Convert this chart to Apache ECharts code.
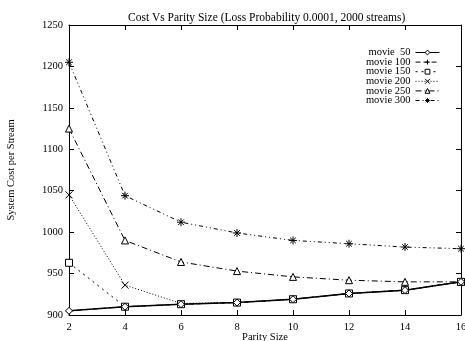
<!DOCTYPE html>
<html>
<head>
<meta charset="utf-8">
<script src="https://cdn.jsdelivr.net/npm/echarts@6/dist/echarts.min.js"></script>
<style>html,body{margin:0;padding:0;background:#fff;}#c{width:465px;height:341px;}</style>
</head>
<body>
<div id="c"></div>
<script>
const parity = [2, 4, 6, 8, 10, 12, 14, 16];
const seriesNames = ['movie  50', 'movie 100', 'movie 150', 'movie 200', 'movie 250', 'movie 300'];
const movie50  = [905, 910, 913, 915, 919, 926, 930, 940];
const movie100 = [905, 910, 913, 915, 919, 926, 930, 940];
const movie150 = [963, 910, 913, 915, 919, 926, 930, 940];
const movie200 = [1045, 936, 914, 915, 919, 926, 930, 940];
const movie250 = [1125, 990, 964, 953, 946, 942, 940, 940];
const movie300 = [1205, 1044, 1012, 999, 990, 986, 982, 980];
const yTicks = [900, 950, 1000, 1050, 1100, 1150, 1200, 1250];

const FONT = 'Liberation Serif';
const allValues = [movie50, movie100, movie150, movie200, movie250, movie300];
const symbols = [
  'diamond',
  'path://M0,5L10,5M5,0L5,10',
  'rect',
  'path://M0,0L10,10M10,0L0,10',
  'triangle',
  'path://M5,0L5,10M0,5L10,5M1.5,1.5L8.5,8.5M8.5,1.5L1.5,8.5'
];
const hollow = [true, false, true, false, true, false];
const dashes = ['solid', [5, 3], [2, 4], [1, 2], [6, 3, 1, 3], [4, 3, 1, 3, 1, 3]];
const widths = [1.5, 1, 1, 1, 1, 1];
const symSizes = [7, 7, 7, 7, 7, 8];

const series = seriesNames.map((name, i) => ({
  name: name,
  type: 'line',
  xAxisIndex: 0,
  yAxisIndex: 0,
  data: parity.map((p, k) => [p, allValues[i][k]]),
  symbol: symbols[i],
  symbolSize: symSizes[i],
  showAllSymbol: true,
  lineStyle: { color: '#000', width: widths[i], type: dashes[i] },
  itemStyle: hollow[i]
    ? { color: '#fff', borderColor: '#000', borderWidth: 1 }
    : { color: 'rgba(0,0,0,0)', borderColor: '#000', borderWidth: 1 },
  emphasis: { disabled: true },
  animation: false,
  z: 10 - i
}));

const axisCommon = {
  type: 'value',
  axisLine: { show: true, lineStyle: { color: '#000', width: 1 } },
  axisTick: { show: true, inside: true, length: 5, lineStyle: { color: '#000' } },
  splitLine: { show: false }
};

const option = {
  animation: false,
  backgroundColor: '#fff',
  title: {
    text: 'Cost Vs Parity Size (Loss Probability 0.0001, 2000 streams)',
    left: 123,
    top: 7,
    textStyle: { fontFamily: FONT, fontSize: 11.5, fontWeight: 'normal', color: '#000' }
  },
  grid: { left: 69, right: 4, top: 25, bottom: 26, containLabel: false, outerBoundsMode: 'none' },
  legend: {
    orient: 'vertical',
    right: 20,
    top: 42,
    align: 'right',
    itemWidth: 24,
    itemHeight: 6,
    itemGap: -1.4,
    selectedMode: false,
    lineStyle: { width: 1 },
    itemStyle: { borderWidth: 1 },
    textStyle: { fontFamily: FONT, fontSize: 10.5, color: '#000' },
    data: seriesNames
  },
  xAxis: [
    Object.assign({}, axisCommon, {
      position: 'bottom',
      min: parity[0], max: parity[parity.length - 1], interval: 2,
      name: 'Parity Size', nameLocation: 'middle', nameGap: 17, nameMoveOverlap: false,
      nameTextStyle: { fontFamily: FONT, fontSize: 10.5, color: '#000' },
      axisLabel: { fontFamily: FONT, fontSize: 10.5, color: '#000', margin: 7 }
    }),
    Object.assign({}, axisCommon, {
      position: 'top',
      min: parity[0], max: parity[parity.length - 1], interval: 2,
      axisLabel: { show: false }
    })
  ],
  yAxis: [
    Object.assign({}, axisCommon, {
      position: 'left',
      min: yTicks[0], max: yTicks[yTicks.length - 1], interval: 50,
      name: 'System Cost per Stream', nameLocation: 'middle', nameGap: 52, nameMoveOverlap: false,
      nameTextStyle: { fontFamily: FONT, fontSize: 10.5, color: '#000' },
      axisLabel: { fontFamily: FONT, fontSize: 10.5, color: '#000', margin: 6, formatter: v => String(v) }
    }),
    Object.assign({}, axisCommon, {
      position: 'right',
      min: yTicks[0], max: yTicks[yTicks.length - 1], interval: 50,
      axisLabel: { show: false }
    })
  ],
  series: series
};

const chart = echarts.init(document.getElementById('c'), null, { renderer: 'canvas' });
chart.setOption(option);
</script>
</body>
</html>
